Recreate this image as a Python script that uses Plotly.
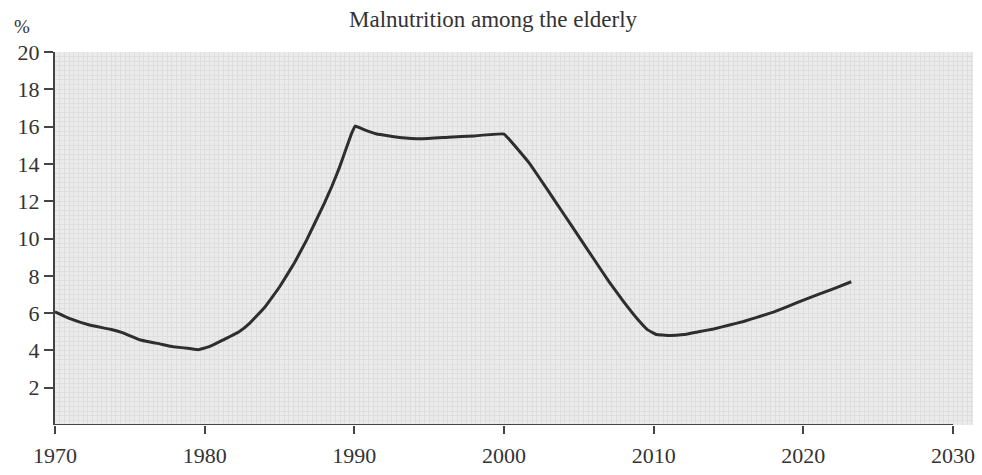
import plotly.graph_objects as go

TITLE = "Malnutrition among the elderly"
Y_UNIT = "%"
X_TICKS = [1970, 1980, 1990, 2000, 2010, 2020, 2030]
Y_TICKS = [2, 4, 6, 8, 10, 12, 14, 16, 18, 20]

years = [1970, 1971, 1972.3, 1973.7, 1974.5, 1975.7, 1977, 1977.9, 1979, 1979.6,
         1980.3, 1981, 1982.3, 1983, 1984, 1985, 1986, 1986.8, 1988, 1988.5,
         1989, 1989.4, 1989.8, 1990.05, 1990.6, 1991.5, 1993, 1994.5, 1996.3,
         1998, 2000, 2001.7, 2003, 2004, 2005, 2006, 2007, 2008, 2009, 2009.6,
         2010.2, 2011, 2012, 2013, 2014, 2015, 2016, 2017, 2018, 2019.7, 2021,
         2022, 2023.2]
values = [6.07, 5.7, 5.36, 5.13, 4.95, 4.56, 4.35, 4.2, 4.1, 4.04,
          4.2, 4.47, 5.0, 5.45, 6.3, 7.4, 8.7, 9.9, 11.9, 12.8,
          13.8, 14.7, 15.6, 16.03, 15.85, 15.6, 15.42, 15.35, 15.43,
          15.5, 15.6, 14.03, 12.5, 11.3, 10.1, 8.9, 7.7, 6.6, 5.6, 5.1,
          4.85, 4.8, 4.85, 5.0, 5.15, 5.35, 5.55, 5.8, 6.05, 6.6, 7.0,
          7.3, 7.68]

fig = go.Figure()
fig.add_trace(go.Scatter(x=years, y=values, mode="lines",
                         line=dict(color="#2e2e2e", width=3, shape="spline", smoothing=0.2),
                         showlegend=False, hoverinfo="skip"))
# fine graph-paper grid
fig.add_trace(go.Scatter(x=[X_TICKS[0]], y=[0], xaxis="x2", yaxis="y2", mode="markers",
                         marker=dict(opacity=0), showlegend=False, hoverinfo="skip"))

font_serif = "Liberation Serif, Times New Roman, serif"
x_end = 1970 + (975 - 55) / 15.0

fig.update_layout(
    width=982, height=475,
    margin=dict(l=55, r=7, t=52, b=50),
    paper_bgcolor="white", plot_bgcolor="#ebebeb",
    font=dict(family=font_serif, color="#333333", size=22),
    xaxis=dict(range=[1970, x_end], tickmode="array", tickvals=X_TICKS,
               ticktext=[str(t) for t in X_TICKS],
               ticks="outside", ticklen=8, tickwidth=2, tickcolor="#444",
               ticklabelstandoff=3,
               showline=False, showgrid=True, gridcolor="#c0c0c0", gridwidth=1,
               zeroline=False,
               minor=dict(dtick=1.25, tick0=1970, showgrid=True, gridcolor="#c0c0c0",
                          gridwidth=1, ticks=""),
               tickfont=dict(size=22, family=font_serif, color="#333")),
    yaxis=dict(range=[0, 20], tickmode="array", tickvals=Y_TICKS,
               ticks="outside", ticklen=9, tickwidth=2, tickcolor="#444",
               showline=True, linecolor="#444", linewidth=2,
               showgrid=True, gridcolor="#c0c0c0", gridwidth=1, zeroline=False,
               minor=dict(dtick=1, showgrid=True, gridcolor="#c0c0c0", gridwidth=1, ticks=""),
               tickfont=dict(size=22, family=font_serif, color="#333")),
    xaxis2=dict(overlaying="x", range=[1970, x_end], dtick=0.3125, tick0=1970,
                showgrid=True, gridcolor="#dedede", gridwidth=1, showticklabels=False,
                ticks="", zeroline=False, showline=False),
    yaxis2=dict(overlaying="y", range=[0, 20], dtick=0.25, tick0=0,
                showgrid=True, gridcolor="#dedede", gridwidth=1, showticklabels=False,
                ticks="", zeroline=False, showline=False),
    shapes=[dict(type="line", xref="x", yref="y", x0=X_TICKS[0], x1=X_TICKS[-1],
                 y0=0, y1=0, line=dict(color="#444", width=2), layer="above")],
    annotations=[
        dict(text=TITLE, xref="paper", yref="paper", x=0.478, y=1 + 32 / 373.0,
             xanchor="center", yanchor="middle", showarrow=False,
             font=dict(size=23, family=font_serif, color="#333")),
        dict(text=Y_UNIT, xref="paper", yref="paper", x=-33 / 920.0, y=1 + 25 / 373.0,
             xanchor="center", yanchor="middle", showarrow=False,
             font=dict(size=19, family=font_serif, color="#333")),
    ],
)

fig.write_html("out.html", config={"displayModeBar": False},
               post_script="document.body.style.margin='0';document.body.style.overflow='hidden';")
